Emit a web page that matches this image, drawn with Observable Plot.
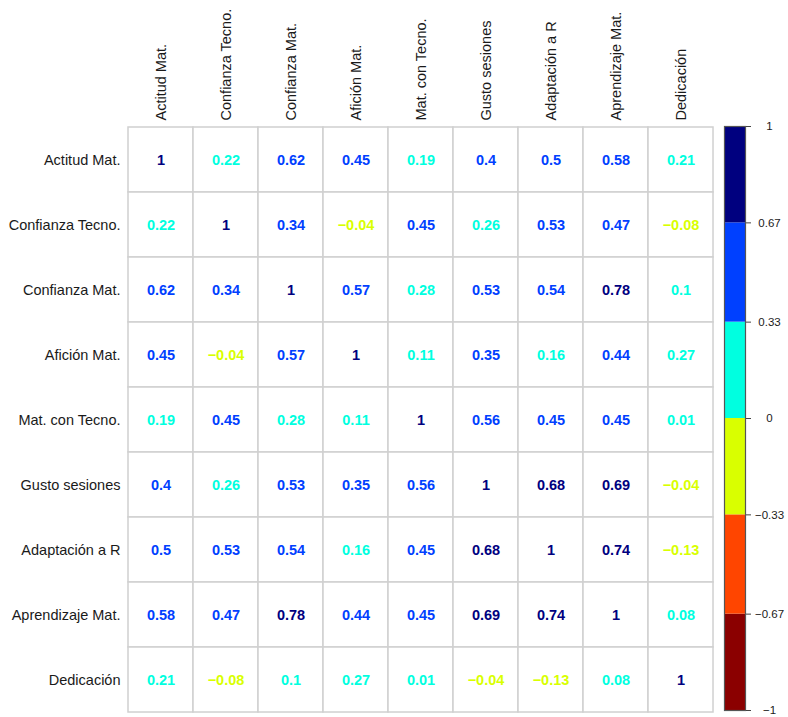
<!DOCTYPE html>
<html>
<head>
<meta charset="utf-8">
<script src="https://cdn.jsdelivr.net/npm/d3@7"></script>
<script src="https://cdn.jsdelivr.net/npm/@observablehq/plot@0.6"></script>
<style>
  html, body { margin: 0; padding: 0; background: #fff; }
  #wrap { position: relative; width: 788px; height: 717px; }
  #wrap svg { position: absolute; left: 0; top: 0; }
</style>
</head>
<body>
<div id="wrap"></div>
<script>
const vars = ["Actitud Mat.", "Confianza Tecno.", "Confianza Mat.", "Afición Mat.", "Mat. con Tecno.", "Gusto sesiones", "Adaptación a R", "Aprendizaje Mat.", "Dedicación"];

const rowActitud     = [1, 0.22, 0.62, 0.45, 0.19, 0.4, 0.5, 0.58, 0.21];
const rowConfTecno   = [0.22, 1, 0.34, -0.04, 0.45, 0.26, 0.53, 0.47, -0.08];
const rowConfMat     = [0.62, 0.34, 1, 0.57, 0.28, 0.53, 0.54, 0.78, 0.1];
const rowAficion     = [0.45, -0.04, 0.57, 1, 0.11, 0.35, 0.16, 0.44, 0.27];
const rowMatTecno    = [0.19, 0.45, 0.28, 0.11, 1, 0.56, 0.45, 0.45, 0.01];
const rowGusto       = [0.4, 0.26, 0.53, 0.35, 0.56, 1, 0.68, 0.69, -0.04];
const rowAdaptacion  = [0.5, 0.53, 0.54, 0.16, 0.45, 0.68, 1, 0.74, -0.13];
const rowAprendizaje = [0.58, 0.47, 0.78, 0.44, 0.45, 0.69, 0.74, 1, 0.08];
const rowDedicacion  = [0.21, -0.08, 0.1, 0.27, 0.01, -0.04, -0.13, 0.08, 1];
const matrix = [rowActitud, rowConfTecno, rowConfMat, rowAficion, rowMatTecno, rowGusto, rowAdaptacion, rowAprendizaje, rowDedicacion];

const breaks = [-0.67, -0.33, 0, 0.33, 0.67];
const binColors = ["#8B0000", "#FF4500", "#D9FF00", "#00FFE0", "#0040FF", "#00007F"];
const binLow  = [-1, -0.67, -0.33, 0, 0.33, 0.67];
const binHigh = [-0.67, -0.33, 0, 0.33, 0.67, 1];
const legendTicks = [-1, -0.67, -0.33, 0, 0.33, 0.67, 1];
const legendLabels = ["−1", "−0.67", "−0.33", "0", "0.33", "0.67", "1"];

const cells = [];
matrix.forEach((row, i) => row.forEach((v, j) => cells.push({row: vars[i], col: vars[j], v})));
const fmt = v => String(v).replace("-", "−");

const colorScale = {type: "threshold", domain: breaks, range: binColors};
const font = "Liberation Sans, Arial, Helvetica, sans-serif";

const main = Plot.plot({
  width: 788, height: 717,
  marginLeft: 126, marginTop: 126, marginRight: 74, marginBottom: 5,
  style: {fontFamily: font, fontSize: "14.5px", background: "white", color: "#1a1a1a"},
  x: {domain: vars, padding: 0, axis: null},
  y: {domain: vars, padding: 0, axis: null},
  color: colorScale,
  marks: [
    Plot.cell(cells, {x: "col", y: "row", fill: "white", stroke: "#d0d0d0", strokeWidth: 1.5}),
    Plot.text(cells, {x: "col", y: "row", text: d => fmt(d.v), fill: "v", fontWeight: "bold", fontSize: 14.5}),
    Plot.axisX({anchor: "top", tickRotate: -90, tickSize: 0, tickPadding: 6, fontSize: 14.5, label: null}),
    Plot.axisY({anchor: "left", tickSize: 0, tickPadding: 6, fontSize: 14.5, label: null})
  ]
});

const bins = binLow.map((lo, i) => ({lo, hi: binHigh[i], mid: (lo + binHigh[i]) / 2}));
const bar = Plot.plot({
  width: 788, height: 717,
  marginLeft: 724, marginRight: 43, marginTop: 126, marginBottom: 7,
  style: {fontFamily: font, fontSize: "11.5px", background: "transparent", color: "#1a1a1a"},
  x: {axis: null},
  y: {domain: [-1, 1], axis: null},
  color: colorScale,
  marks: [
    Plot.rect(bins, {y1: "lo", y2: "hi", fill: "mid"}),
    Plot.frame({stroke: "#555", strokeWidth: 1.2}),
    Plot.axisY({anchor: "right", ticks: legendTicks, tickFormat: (d) => legendLabels[legendTicks.indexOf(d)], tickSize: 5, tickPadding: 19, textAnchor: "middle", fontSize: 11.5, label: null, stroke: "#444"})
  ]
});
bar.style.pointerEvents = "none";

const wrap = document.getElementById("wrap");
wrap.appendChild(main);
wrap.appendChild(bar);
</script>
</body>
</html>
